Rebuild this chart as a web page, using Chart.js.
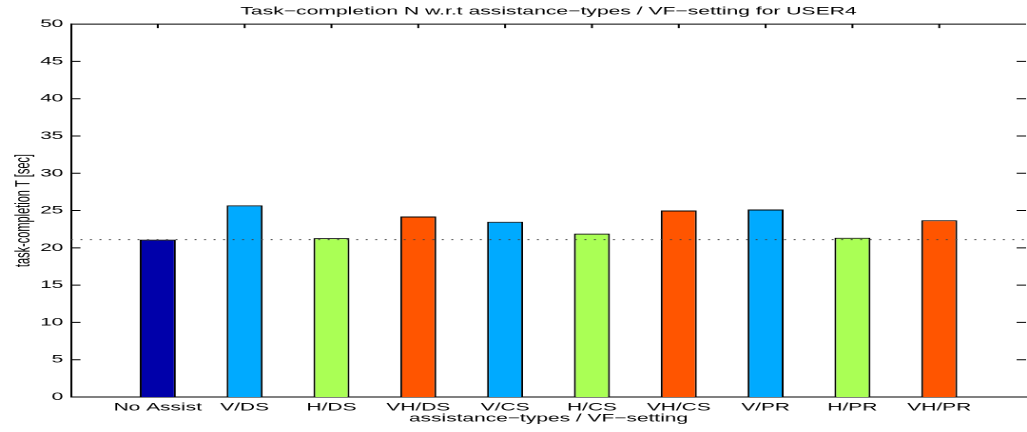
<!DOCTYPE html>
<html>
<head>
<meta charset="utf-8">
<script src="https://cdn.jsdelivr.net/npm/chart.js@4.4.0/dist/chart.umd.min.js"></script>
<style>
  body { margin: 0; background: #fff; overflow: hidden; }
  /* the original figure is horizontally stretched, so draw narrow and stretch */
  #wrap { width: 540px; height: 432px; transform: scaleX(1.9019); transform-origin: 0 0; }
</style>
</head>
<body>
<div id="wrap"><canvas id="TaskChart"></canvas></div>
<script>
//data
const categories = ["No Assist", "V/DS", "H/DS", "VH/DS", "V/CS", "H/CS", "VH/CS", "V/PR", "H/PR", "VH/PR"];
const completionTimes = [21.1, 25.7, 21.3, 24.2, 23.5, 21.9, 25.0, 25.15, 21.35, 23.7];
const barColors = ["#0000aa", "#00aaff", "#aaff55", "#ff5500", "#00aaff", "#aaff55", "#ff5500", "#00aaff", "#aaff55", "#ff5500"];
const baselineTime = 21.1;
const yTickValues = [0, 5, 10, 15, 20, 25, 30, 35, 40, 45, 50];

Chart.defaults.font.family = "'Liberation Sans', Arial, sans-serif";
Chart.defaults.font.size = 11;
Chart.defaults.color = "#000";

//matlab style ticks pointing inside the box
const inwardTicks = {
  id: "inwardTicks",
  beforeDatasetsDraw(chart) {
    const {
      ctx,
      chartArea: { top, bottom, left, right },
      scales: { x, y },
    } = chart;
    ctx.save();
    ctx.strokeStyle = "#000";
    ctx.lineWidth = 1;
    ctx.beginPath();
    yTickValues.forEach((v) => {
      const py = y.getPixelForValue(v);
      ctx.moveTo(left, py);
      ctx.lineTo(left + 5, py);
      ctx.moveTo(right, py);
      ctx.lineTo(right - 5, py);
    });
    categories.forEach((c, i) => {
      const px = x.getPixelForValue(i + 1);
      ctx.moveTo(px, top);
      ctx.lineTo(px, top + 4);
      ctx.moveTo(px, bottom);
      ctx.lineTo(px, bottom - 4);
    });
    ctx.moveTo(left, top);
    ctx.lineTo(right, top);
    ctx.stroke();
    ctx.restore();
  },
};

const barData = categories.map((c, i) => ({ x: i + 1, y: completionTimes[i] }));

new Chart(document.getElementById("TaskChart"), {
  type: "bar",
  data: {
    datasets: [
      {
        type: "line",
        data: [
          { x: 0, y: baselineTime },
          { x: categories.length + 1, y: baselineTime },
        ],
        borderColor: "#444",
        borderWidth: 1,
        borderDash: [1, 4],
        pointRadius: 0,
        order: 0,
      },
      {
        data: barData,
        backgroundColor: barColors,
        borderColor: "#000",
        borderWidth: 1,
        categoryPercentage: 1,
        barPercentage: 0.415,
        order: 1,
      },
    ],
  },
  plugins: [inwardTicks],
  options: {
    responsive: true,
    maintainAspectRatio: false,
    devicePixelRatio: 2,
    animation: false,
    layout: { padding: { left: 0, right: 0, top: 0, bottom: 0 } },
    plugins: {
      legend: { display: false },
      tooltip: { enabled: false },
      title: {
        display: true,
        fullSize: false,
        text: "Task\u2212completion N w.r.t assistance\u2212types / VF\u2212setting for USER4",
        font: { size: 11.1, weight: "normal" },
        color: "#000",
        padding: { top: 5, bottom: 5.8 },
      },
    },
    scales: {
      x: {
        type: "linear",
        offset: false,
        min: 0,
        max: categories.length + 1,
        afterBuildTicks: (scale) => {
          scale.ticks = categories.map((c, i) => ({ value: i + 1 }));
        },
        afterFit: (scale) => {
          scale.height = 35;
        },
        ticks: {
          autoSkip: false,
          maxRotation: 0,
          padding: 4,
          callback: (v) => categories[v - 1] || "",
        },
        grid: { display: false, drawTicks: false },
        border: { display: true, color: "#000", width: 1 },
        title: {
          display: true,
          text: "assistance\u2212types / VF\u2212setting",
          padding: { top: 0, bottom: 7 },
        },
      },
      y: {
        min: 0,
        max: 50,
        afterBuildTicks: (scale) => {
          scale.ticks = yTickValues.map((v) => ({ value: v }));
        },
        afterFit: (scale) => {
          scale.width = 37.3;
        },
        ticks: { padding: 4 },
        grid: { display: false, drawTicks: false },
        border: { display: true, color: "#000", width: 1 },
        title: {
          display: true,
          text: "task-completion T [sec]",
          padding: { top: 6, bottom: 0 },
        },
      },
    },
  },
});
</script>
</body>
</html>
